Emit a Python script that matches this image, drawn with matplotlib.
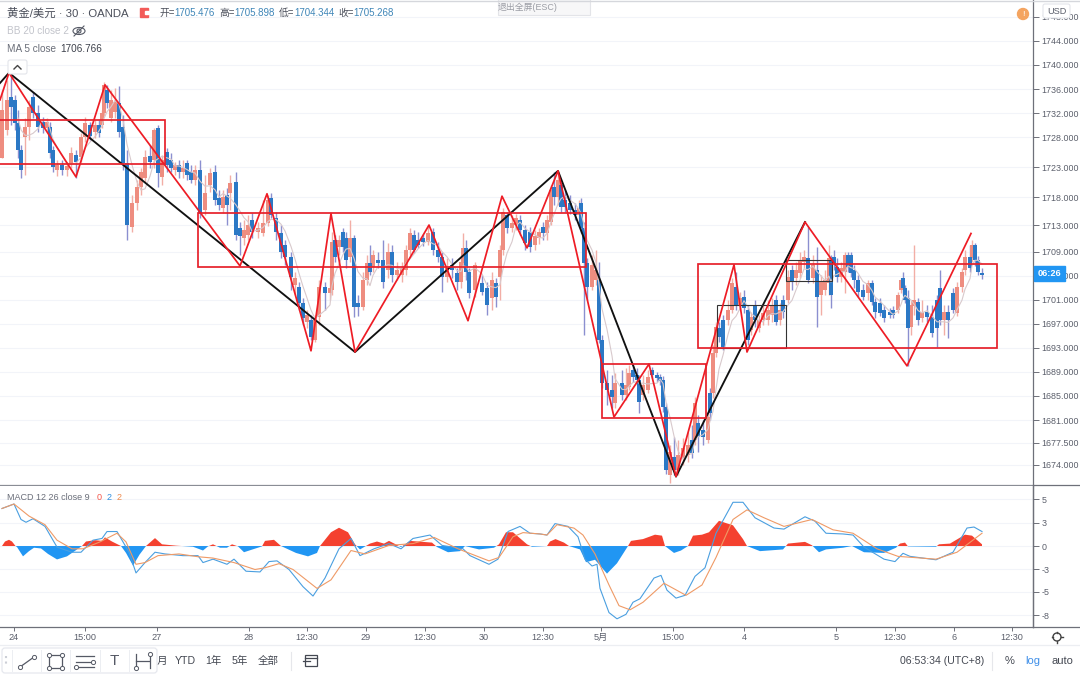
import matplotlib
matplotlib.use('Agg')
import matplotlib.pyplot as plt
import numpy as np
import pandas as pd
from matplotlib.patches import Rectangle, FancyBboxPatch, Circle, Ellipse

plt.rcParams['font.family'] = ['Liberation Sans', 'Noto Sans CJK SC', 'DejaVu Sans']

# candles, time axis is chart position
t = [2,7,11,15,18,21,25,29,33,38,
     43,47,50,53,57,62,67,71,76,81,
     85,90,95,99,102,104,107,111,115,119,
     123,127,132,137,141,145,150,154,158,162,
     167,171,175,179,183,187,191,195,200,205,
     210,215,219,223,227,230,236,240,244,248,
     252,258,263,268,271,276,281,285,291,295,
     299,303,307,311,315,319,325,330,332,335,
     339,343,346,350,354,358,363,367,370,373,
     378,383,388,392,397,402,406,410,414,418,
     423,428,433,438,442,447,452,457,461,463,
     466,469,475,482,487,492,496,500,503,507,
     512,516,520,525,530,535,539,543,547,551,
     554,558,561,565,570,575,579,581,584,587,
     592,596,599,602,607,612,615,622,626,629,
     633,637,639,643,648,652,657,660,663,666,
     670,674,678,683,688,692,695,698,703,708,
     710,713,716,719,723,728,732,736,740,744,
     748,751,755,759,763,768,772,776,780,783,
     788,792,796,800,804,808,813,817,821,825,
     829,831,834,837,841,845,848,851,854,858,
     863,868,872,875,880,884,890,893,898,901,
     903,905,908,911,914,918,922,927,932,937,
     940,944,948,953,957,962,965,970,972,975,
     978,982]

opens = [1724.6,1729.2,1734.7,1734.2,1730.4,1725.9,1728,1729.7,1734.7,1732,
         1730.5,1729.5,1729.7,1725.9,1722.6,1723.4,1722.6,1723.7,1725.1,1724.7,
         1728,1730,1728.9,1730,1730,1732,1735.9,1731.2,1732.2,1733.7,
         1729.7,1723.7,1713.1,1717.1,1719.7,1721.2,1724.9,1724.2,1729.5,1721.4,
         1725.6,1724.2,1722.6,1723.4,1722.2,1723.7,1722.2,1720.9,1722.6,1715.9,
         1720.1,1722.2,1717.9,1716.2,1718.4,1718.7,1720.6,1712.9,1711.3,1711.8,
         1714.3,1712.3,1712.1,1713.8,1717.9,1714.6,1712.1,1710.1,1708.1,1703.5,
         1703.1,1700.5,1697.3,1697.6,1694.3,1698.2,1703.1,1702.1,1702.6,1710.9,
         1709.8,1712.3,1711.3,1708.1,1711.3,1700.5,1699.8,1704.3,1707.1,1706.5,
         1707.6,1707.6,1706,1708.9,1705.1,1705.1,1706,1709.3,1711.8,1710.9,
         1711.3,1710.6,1712.3,1709.3,1708.1,1704.8,1706.8,1705.5,1704,1707.1,
         1709.6,1705.6,1702.6,1703.8,1703,1701.3,1703.8,1704.8,1709.3,1715.1,
         1712.9,1713.4,1714.3,1712.6,1712.3,1710.1,1711.3,1713.1,1712.1,1713.9,
         1719.7,1718.1,1720.1,1717.6,1717.1,1715.9,1715.1,1717.1,1712.9,1707.1,
         1703.1,1704.3,1704.3,1694.3,1687.2,1686,1683.9,1687.2,1685.2,1686.5,
         1689.3,1688.5,1687.7,1685.2,1686,1689.3,1688.5,1688.2,1687.7,1683.2,
         1671.9,1674.9,1672.7,1674.7,1675.2,1677.7,1677.7,1680.5,1679.4,1677.7,
         1685.5,1685.5,1692.2,1696.3,1697.6,1697.6,1699.3,1703.1,1700.1,1701.5,
         1699.3,1696,1700.1,1696.3,1697.6,1697.6,1698.5,1701,1697.6,1701,
         1701,1706,1704.6,1705.5,1707.3,1708,1704.6,1706,1701.8,1702.6,
         1703.8,1707.6,1708.1,1706.5,1704.8,1705.6,1708.4,1708.4,1706,1704.3,
         1702.6,1702.1,1703.8,1700.6,1700.5,1699.3,1699,1699.3,1699.3,1702.6,
         1704.6,1703,1701.3,1696.5,1700,1700.6,1698,1699,1698.2,1701,
         1703,1697.6,1699,1702.1,1698.8,1703.1,1706,1708.1,1708,1710.1,
         1707.6,1705.5]

closes = [1732.5,1734.2,1733,1730.4,1725.9,1722.6,1729.7,1733,1732,1729.7,
          1729.5,1730.5,1725.4,1723.1,1723.4,1722.6,1723.2,1725.4,1723.9,1728,
          1730.4,1728.2,1730,1728.7,1732,1736.7,1733.7,1734.2,1733.9,1728.9,
          1723.7,1713.4,1717.1,1719.7,1722.2,1724.7,1723.9,1729.2,1722.1,1724.2,
          1723.4,1722.9,1723.4,1722.2,1722.9,1721.7,1720.9,1722.6,1715.4,1718.7,
          1722,1717.6,1716.7,1718.1,1716.7,1720.4,1711.8,1711.6,1712.6,1713.4,
          1712.3,1712.9,1713.8,1717.6,1715.1,1712.3,1708.9,1708.1,1704.8,1704.6,
          1700.5,1698,1698.5,1694.8,1697.6,1703.1,1702.1,1703,1710.6,1708.1,
          1710.9,1709.8,1707.6,1711.3,1699.8,1699.8,1704.3,1707.1,1705.6,1708.4,
          1707.1,1704,1708.9,1705.1,1706,1706.3,1709.3,1712.1,1709.3,1710.1,
          1710.6,1712.1,1709.3,1708.1,1704.8,1706.3,1706,1704,1707.3,1709.6,
          1705.6,1702.1,1706.8,1702.3,1700.1,1704.3,1701.5,1709.3,1715.6,1712.9,
          1713.8,1714.6,1712.6,1710.4,1709.8,1711.6,1712.3,1712.1,1714.3,1719.2,
          1718.1,1720.9,1716.4,1716.4,1715.9,1715.1,1716.3,1712.9,1707.1,1703.1,
          1706.8,1706,1694.3,1687.2,1686,1684.9,1687.2,1685.2,1686.9,1688.8,
          1688.2,1687.7,1684,1686.9,1688.2,1688.5,1688,1687.5,1683.2,1672.7,
          1675.7,1672.7,1675.2,1676.4,1676.9,1675.6,1683.9,1678.2,1678.2,1681.5,
          1682.2,1692.2,1696.5,1694.8,1693.2,1699.3,1703.8,1700.1,1701.3,1699.6,
          1694.3,1698.2,1697.6,1697.6,1698.8,1699.3,1700.1,1697.3,1699.3,1699,
          1704.8,1704,1706,1707.6,1708.1,1704.3,1706.8,1701.5,1704,1704.3,
          1708,1701.8,1707.1,1704.8,1706.3,1708.4,1706.5,1705.5,1704.3,1702.3,
          1701.5,1703.8,1700.6,1699,1698.8,1698,1698.5,1698.5,1701.8,1704.3,
          1703,1701,1696.3,1700.1,1701,1697.6,1699,1698.2,1695.5,1696.3,
          1697.6,1699,1697.6,1699.3,1703.1,1705.6,1708.1,1706.3,1710.1,1707.6,
          1705.6,1705.1]

highs = [1735.9,1737.5,1738.7,1735,1732.5,1726.7,1731.2,1734.2,1735.5,1733.4,
         1731.4,1731.2,1730.5,1726.5,1724.2,1724.2,1723.9,1726.4,1725.9,1728.7,
         1731.4,1730.5,1730.9,1730.9,1732.5,1737.2,1736.7,1735.9,1736.2,1736.5,
         1731.7,1725.9,1718.4,1720.9,1722.9,1725.9,1726.7,1729.5,1730,1725.1,
         1726.2,1725.4,1723.9,1724.2,1724.2,1724.2,1723.4,1723.4,1724.2,1721.7,
         1722.9,1723.4,1719.2,1719.2,1719.6,1721.7,1722.2,1713.9,1714.3,1715.1,
         1715.4,1713.9,1717.6,1718.4,1718.7,1715.6,1713.4,1710.9,1708.9,1705.6,
         1704,1701.3,1699.3,1698.5,1698.5,1704.3,1704,1704.8,1712.3,1711.8,
         1711.8,1712.9,1712.3,1714.3,1711.8,1701.8,1705.6,1708.4,1710.1,1709.3,
         1708.9,1710.9,1710.4,1710.1,1707.3,1707.3,1710.1,1712.9,1712.6,1712.3,
         1711.9,1713.4,1712.9,1710.6,1708.9,1707.9,1707.9,1706.3,1708.4,1712.1,
         1710.9,1706.3,1707.3,1705.1,1704,1705.6,1704.6,1710.1,1716.3,1715.6,
         1715.1,1715.3,1715.1,1713.4,1713.1,1712.6,1712.9,1713.9,1715.1,1720.1,
         1722.2,1721.7,1720.9,1719.2,1718.4,1717.1,1717.6,1717.9,1713.9,1708,
         1708.4,1709.3,1707.3,1695.2,1689.3,1688.5,1688.8,1689.3,1689.7,1690.2,
         1690.2,1689.7,1688.5,1688.5,1689.3,1689.8,1689,1688.7,1688.3,1683.9,
         1676.9,1678.2,1677.7,1678,1679,1680.2,1684.9,1681.9,1681,1682.7,
         1686.3,1693.5,1697.3,1697.3,1698.5,1701,1704.6,1705.6,1702.3,1702.6,
         1700.1,1699,1701,1698.5,1700.1,1701,1701.3,1701.8,1700.5,1701.8,
         1706,1706.8,1707.3,1708.9,1709.3,1713.1,1708.4,1709.8,1705.1,1706,
         1710.1,1708.4,1709.3,1708,1707.3,1708.9,1708.9,1708.9,1706.8,1705.1,
         1703.6,1704.3,1704.3,1701.3,1701.3,1700.1,1699.6,1700,1702.3,1704.6,
         1705.6,1703.5,1702.6,1701,1710.1,1701.3,1701,1700.1,1700.1,1701.8,
         1706,1700.1,1700.1,1703,1704,1706.3,1709.3,1710.1,1710.9,1710.4,
         1708.3,1706.3]

lows = [1724.6,1728.4,1730,1729.2,1724.6,1721.2,1721.7,1727.5,1731.2,1728.9,
        1728.7,1728.9,1724.6,1722.2,1721.6,1721.7,1721.6,1722.9,1721.2,1723.9,
        1727.2,1727.5,1727.9,1728,1729.5,1731.5,1732.9,1730.5,1731.2,1728,
        1722.6,1710.9,1712.3,1715.9,1718.4,1720.6,1722.9,1722.9,1719.7,1720.1,
        1722.2,1722.2,1721.7,1721.2,1721.2,1720.9,1720.4,1720.1,1714.6,1715.1,
        1718.9,1716.7,1715.9,1715.4,1713.4,1715.9,1710.9,1708.4,1710.1,1710.9,
        1711.3,1711.3,1711.6,1713.3,1714.6,1710.9,1708,1706.8,1702.6,1701.8,
        1699.3,1696.8,1696.3,1694.3,1694,1696.8,1699.3,1701,1701.8,1707.3,
        1708.4,1708.9,1706.3,1707.3,1698.2,1698.3,1699.3,1703.5,1705.1,1705.6,
        1706.3,1703,1704.6,1704,1704.3,1704,1705.1,1708.4,1708.8,1709.6,
        1709.9,1710.1,1708.4,1707.3,1702.3,1704,1704.6,1702.6,1703,1706.3,
        1704.3,1701.3,1701.5,1701.8,1698.5,1699.3,1699.8,1701,1708.4,1712.1,
        1712.3,1712.6,1711.8,1709.3,1708.9,1709.3,1710.3,1710.9,1710.9,1713.4,
        1716.7,1716.7,1715.6,1715.6,1715.3,1714.3,1713.9,1712.1,1695.2,1701,
        1702.6,1703.5,1693.8,1686.4,1683.5,1683,1683,1684.4,1684.4,1686,
        1687.3,1686.9,1682.2,1684.4,1685.5,1688,1687.3,1686.9,1682.4,1672.1,
        1670.6,1671.8,1671.9,1673.6,1674.1,1674.7,1676.9,1675.7,1676.9,1677.2,
        1681,1684.7,1691.5,1694,1692.7,1696.8,1698.8,1699.3,1699.3,1698.8,
        1693.5,1695.2,1696.5,1695.7,1696.8,1696.8,1697.3,1696.8,1696.8,1698,
        1700.5,1702.6,1703.5,1704.6,1706.3,1703.8,1703.8,1696.5,1698.5,1701.8,
        1701.8,1699.6,1706,1704,1704,1702.1,1705.6,1704.8,1703,1701.5,
        1701,1701,1700.1,1698,1698.3,1697.3,1698,1698,1698.8,1702.1,
        1701.8,1700.5,1689.9,1695.2,1698.5,1696.8,1697.3,1697.3,1694.8,1693.2,
        1696.8,1695.2,1694.7,1698.8,1698.3,1702.3,1705.1,1705.6,1707.3,1706.6,
        1705.1,1704.5]

# hand drawn zigzags and boxes on the chart
red_t = [0,9,76,105,240,267,311,331,355,429,468,502,527,558,614,649,676,734,747,805,907,971]
red_p = [1734.2,1738.7,1721.4,1736.7,1706.6,1718.6,1692.5,1715.3,1692.3,1713.4,1697.5,
         1718.2,1709.6,1722.4,1681.5,1690.3,1671.6,1706.8,1692.3,1713.9,1690,1712]
black_t = [0,9,355,558,676,805]
black_p = [1737,1738.7,1692.3,1722.4,1671.6,1713.9]

red_box_l = [-3,198,602,698]
red_box_r = [165,586,706,997]
red_box_top = [1730.9,1715.4,1690.3,1706.9]
red_box_bot = [1723.6,1706.4,1681.4,1693]
black_box_l = [717,786]
black_box_r = [786,832]
black_box_top = [1700.1,1707.6]
black_box_bot = [1693,1704.1]

price_ticks = [1748,1744,1740,1736,1732,1728,1723,1718,1713.4,1709,1705,1701,1697,1693,1689,1685,1681,1677.2,1673.6]
price_labels = ['1748.000','1744.000','1740.000','1736.000','1732.000','1728.000','1723.000','1718.000',
                '1713.000','1709.000','1705.000','1701.000','1697.000','1693.000','1689.000','1685.000',
                '1681.000','1677.500','1674.000']

# MACD panel
macd_t = [2,14,21,26,33,45,57,72,81,93,102,107,117,129,136,145,155,165,183,198,203,213,227,234,246,
          260,269,277,289,303,313,325,339,351,360,374,389,401,413,430,442,463,470,489,498,508,520,530,
          540,547,555,568,578,585,592,597,600,609,617,626,633,640,654,661,667,676,685,695,705,716,733,
          743,755,774,784,805,815,826,843,853,864,884,895,903,910,936,953,967,974,982]
macd_v = [4.17,4.67,2.95,2.64,3.03,2.18,-0.12,-0.69,-0.69,0.65,0.84,1.61,1.61,-0.69,-2.99,-1.84,-0.69,
          -0.88,-1.07,-1.07,-1.84,-1.46,-2.03,-1.46,-2.8,-2.88,-1.73,-1.65,-2.61,-4.52,-5.56,-3.56,-0.31,
          0.84,-1.07,-0.31,0.27,-0.31,0.84,1.22,0.07,-0.31,-1.07,-2.03,-1.46,1.61,2.18,1.42,
          1.34,1.22,2.49,2.18,1.03,-1.46,-2.22,-2.03,-4.71,-7.4,-8.09,-7.59,-6.25,-5.86,-3.56,-3.26,-4.91,
          -5.79,-5.48,-3.37,-2.42,1.42,4.86,4.86,3.14,2,1.88,3.25,2.76,1.42,1.34,1.22,-0.12,-1.46,-1.73,
          -0.81,-1.15,-1.53,-0.69,2,2.11,1.61]
signal_t = [2,14,29,45,57,72,83,100,117,126,136,145,158,179,198,213,234,255,265,279,293,317,331,351,365,
            389,413,434,458,489,499,513,523,540,547,557,574,583,595,609,619,630,643,664,686,702,716,733,
            747,764,784,812,833,853,877,898,936,957,982]
signal_v = [4.17,4.67,3.33,2.37,0.65,-0.31,-0.31,0.46,1.42,0.46,-2.03,-1.84,-1.07,-0.88,-1.19,-1.34,-1.84,
            -2.61,-2.42,-1.96,-2.61,-4.71,-3.76,-0.5,-0.88,0.07,0.27,0.96,-0.31,-1.65,-1.27,1.03,1.49,1.34,
            1.22,2.37,1.99,1.22,-0.88,-4.33,-6.63,-7.09,-6.25,-4.14,-5.48,-4.33,-1.27,2.95,4.02,3.14,2.18,
            2.95,1.8,1.42,-0.31,-1.15,-1.46,-0.69,1.42]
hist_t = [2,5,9,12,15.5,17,23,29,34,41,48,57,67,76,82,86,95,102,105,112,119,121,126,133,139.5,146,155,162,
          176,193,203,208,213,220,227,232,238,244,262,265,274,281,296,308,317,320,331,339,348,355,360,370,
          377,384,389,401,410,432,437,448,460,465,479,494,499,506,513,527,532,540,547,550,555.5,564,569,
          580,586,595,607,617,628,631,643,655,662,665,674,681,688,693,702,709,719,733,743,747,760,783,788,
          805,812,819,826,843,852,864,884,896,900,905,908,936,939,950,965,972,982]
hist_v = [0,.5,.69,.5,0,-.11,-1.15,-.57,-.19,-.27,-.88,-1.49,-1.15,-.46,0,.5,.65,.57,.96,.5,.11,0,-.77,-2.18,
          -.96,0,.88,.19,.04,-.08,-.5,-.04,.19,-.19,-.19,.19,-.04,-.69,-.04,.57,.69,0,-.77,-1.15,-.77,0,1.53,
          2.03,1.53,.19,-.38,.27,.5,.27,.57,-.11,.57,.38,-.11,-.69,-.57,0,-.38,-.19,.19,1.53,1.53,.19,-.08,
          -.04,0,.5,.77,.38,0,-.38,-1.8,-1.53,-3.07,-1.92,0,.57,.77,1.26,1.15,0,-.77,-.5,0,1.15,1.26,1.53,2.8,
          2.3,.77,0,-.57,-.38,.27,.46,.08,-.69,-.38,-.19,0,-.69,-.77,-.19,.27,.38,-.04,-.08,.19,.27,1.26,1.15,.19]
macd_ticks = [5.2,2.6,0,-2.6,-5.1,-7.7]
macd_labels = ['5','3','0','-3','-5','-8']

time_ticks = [14,85,157,249,307,366,425,484,543,601,673,744,836,895,954,1012]
time_labels = ['24','15:00','27','28','12:30','29','12:30','30','12:30','5月','15:00','4','5','12:30','6','12:30']

t = np.array(t)
opens = np.array(opens)
closes = np.array(closes)
highs = np.array(highs)
lows = np.array(lows)
up = closes >= opens

W, H = 1080, 675
fig = plt.figure(figsize=(10.8, 6.75), dpi=100)
ax = fig.add_axes([0, 1 - 485 / H, 1033 / W, 485 / H])
ax2 = fig.add_axes([0, 1 - 627 / H, 1033 / W, 141 / H])
axis_c = '#6e7079'
text_c = '#5b5f6b'
grid_c = '#f2f4f9'

ax.set_xlim(0, 1033)
ax.set_ylim(1670.2, 1750.8)
ax.set_yticks(price_ticks)
ax.set_yticklabels(price_labels)
ax.set_xticks([])
ax.grid(axis='y', color=grid_c, lw=0.8)
ax.set_axisbelow(True)

# wicks then bodies
ax.vlines(t[up], lows[up], highs[up], color='#f2aea6', lw=1.0, zorder=2)
ax.vlines(t[~up], lows[~up], highs[~up], color='#8b8fd0', lw=1.0, zorder=2)
ax.bar(t[up], (closes - opens)[up], bottom=opens[up], width=3.6, color='#ee8d80', zorder=3)
ax.bar(t[~up], (closes - opens)[~up], bottom=opens[~up], width=3.6, color='#2b78c5', zorder=3)

ma5 = pd.Series(closes).rolling(5).mean()
ax.plot(t, ma5, color='#d8c9cc', lw=0.8, zorder=4)

ax.plot(black_t, black_p, color='#111111', lw=1.35, zorder=5)
ax.plot(red_t, red_p, color='#ee1c25', lw=1.25, zorder=6)
for i in range(len(red_box_l)):
    ax.add_patch(Rectangle((red_box_l[i], red_box_bot[i]), red_box_r[i] - red_box_l[i],
                           red_box_top[i] - red_box_bot[i], fill=False, ec='#e6202a', lw=1.25, zorder=6))
for i in range(len(black_box_l)):
    ax.add_patch(Rectangle((black_box_l[i], black_box_bot[i]), black_box_r[i] - black_box_l[i],
                           black_box_top[i] - black_box_bot[i], fill=False, ec='#333333', lw=0.8, zorder=5))

ax2.set_xlim(0, 1033)
ax2.set_ylim(-9, 6.67)
ax2.set_yticks(macd_ticks)
ax2.set_yticklabels(macd_labels)
ax2.set_xticks(time_ticks)
ax2.set_xticklabels(time_labels)
ax2.grid(axis='y', color=grid_c, lw=0.8)
ax2.set_axisbelow(True)
ax2.fill_between(hist_t, hist_v, 0, where=np.array(hist_v) >= 0, interpolate=True, color='#f4412f', lw=0, zorder=2)
ax2.fill_between(hist_t, hist_v, 0, where=np.array(hist_v) <= 0, interpolate=True, color='#2196f3', lw=0, zorder=2)
ax2.plot(macd_t, macd_v, color='#4a9fe0', lw=0.8, zorder=3)
ax2.plot(signal_t, signal_v, color='#ef9a66', lw=0.8, zorder=3)

for a in (ax, ax2):
    a.yaxis.tick_right()
    a.tick_params(axis='y', labelsize=6.4, labelcolor=text_c, color=axis_c, length=4, width=0.7, pad=2)
    a.tick_params(axis='x', labelsize=6.6, labelcolor=text_c, color=axis_c, length=3, width=0.7, pad=1)
    for s in ('left', 'top'):
        a.spines[s].set_visible(False)
    for s in ('right', 'bottom'):
        a.spines[s].set_color(axis_c)
        a.spines[s].set_linewidth(0.9)
ax.spines['bottom'].set_color('#8a8d95')

# interface around the chart
ui = fig.add_axes([0, 0, 1, 1], zorder=10)
ui.set_xlim(0, W)
ui.set_ylim(H, 0)
ui.axis('off')
ui.patch.set_alpha(0)

ui.plot([0, W], [0.5, 0.5], color='#d5d7dc', lw=1)
ui.plot([1033, 1033], [485, 627], color=axis_c, lw=0.9)
ui.plot([1033, W], [485, 485], color=axis_c, lw=0.9)
ui.plot([1033, W], [627, 627], color=axis_c, lw=0.9)
ui.plot([0, W], [645, 645], color='#eceef2', lw=0.9)

ui.text(7, 13, '黄金/美元 · 30 · OANDA', fontsize=8.2, color='#4a4e5a', va='center')
ui.add_patch(Rectangle((140, 8), 8, 9, color='#f25a58'))
ui.add_patch(Rectangle((145, 11), 4, 3, color='white'))
legend_items = [('开=', 159, '#4a4e5a'), ('1705.476', 174, '#3f86b8'), ('高=', 219, '#4a4e5a'), ('1705.898', 234, '#3f86b8'),
                ('低=', 279, '#4a4e5a'), ('1704.344', 294, '#3f86b8'), ('收=', 338, '#4a4e5a'), ('1705.268', 353, '#3f86b8')]
for s, x, c in legend_items:
    ui.text(x, 13, s, fontsize=7, color=c, va='center')
ui.text(7, 31, 'BB 20 close 2', fontsize=7.2, color='#c2c4cb', va='center')
ui.add_patch(Ellipse((79, 31), 12, 7, fill=False, ec='#555965', lw=0.8))
ui.add_patch(Circle((79, 31), 2, fill=False, ec='#555965', lw=0.8))
ui.plot([74, 84], [36, 26], color='#555965', lw=0.8)
ui.text(7, 49, 'MA 5 close', fontsize=7.2, color='#6a6e79', va='center')
ui.text(60, 49, '1706.766', fontsize=7.2, color='#3d414c', va='center')
ui.add_patch(FancyBboxPatch((8, 60), 19, 14, boxstyle='round,pad=0,rounding_size=2', fc='white', ec='#e3e5ea', lw=0.8))
ui.plot([14, 17.5, 21], [69, 65.5, 69], color='#444', lw=1)

ui.add_patch(Rectangle((498, -1), 92, 16, fc='#f7f7f8', ec='#e3e4e8', lw=0.8))
ui.text(528, 7, '退出全屏(ESC)', fontsize=6.4, color='#9b9da5', ha='center', va='center')
ui.add_patch(Circle((1023, 14), 5.5, color='#f4a460'))
ui.text(1023, 14, '!', fontsize=6, color='white', ha='center', va='center')
ui.add_patch(FancyBboxPatch((1043, 4), 27, 14, boxstyle='round,pad=0,rounding_size=2', fc='white', ec='#e3e5ea', lw=0.8))
ui.text(1056.5, 11, 'USD', fontsize=6.6, color=text_c, ha='center', va='center')

ui.add_patch(Rectangle((1034, 266), 31, 15, color='#2196f3'))
ui.text(1049.5, 273.5, '06:26', fontsize=6.6, color='white', ha='center', va='center', fontweight='bold')

ui.text(7, 497, 'MACD 12 26 close 9', fontsize=6.5, color='#6a6e79', va='center')
ui.text(97, 497, '0', fontsize=6.5, color='#f4564a', va='center')
ui.text(107, 497, '2', fontsize=6.5, color='#2f8fe0', va='center')
ui.text(117, 497, '2', fontsize=6.5, color='#ef8a4c', va='center')

# gear
ui.add_patch(Circle((1057, 637), 4, fill=False, ec='#444', lw=1))
for dx, dy in [(0, -5.5), (0, 5.5), (-5.5, 0), (5.5, 0)]:
    ui.plot([1057 + dx * 0.75, 1057 + dx], [637 + dy * 0.75, 637 + dy], color='#444', lw=1)

# bottom bar
for s, x in [('月', 162), ('YTD', 185), ('1年', 213), ('5年', 240), ('全部', 268)]:
    ui.text(x, 661, s, fontsize=7.6, color='#444852', ha='center', va='center')
ui.plot([291, 291], [652, 670], color='#e6e7eb', lw=0.8)
ui.add_patch(Rectangle((305, 655), 12, 11, fill=False, ec='#444852', lw=0.9))
ui.plot([305, 317], [658, 658], color='#444852', lw=0.9)
ui.plot([303, 310], [661, 661], color='#444852', lw=0.9)
ui.text(942, 661, '06:53:34 (UTC+8)', fontsize=7.6, color='#444852', ha='center', va='center')
ui.plot([992, 992], [652, 670], color='#e6e7eb', lw=0.8)
ui.text(1010, 661, '%', fontsize=8, color='#444852', ha='center', va='center')
ui.text(1033, 661, 'log', fontsize=8, color='#3f8fe8', ha='center', va='center')
ui.text(1062, 661, 'auto', fontsize=8, color='#444852', ha='center', va='center')

# drawing toolbar
ui.add_patch(FancyBboxPatch((2, 648), 155, 25, boxstyle='round,pad=0,rounding_size=3', fc='white', ec='#e6e8ee', lw=0.9, zorder=3))
for x in (12, 41, 70, 100, 129):
    ui.plot([x, x], [650, 671], color='#eceef2', lw=0.7, zorder=4)
ui.plot([5.5, 5.5], [656, 666], color='#cccfd6', lw=1.5, ls=':', zorder=4)
ic = '#555965'
ui.plot([20, 34], [667, 657], color=ic, lw=0.9, zorder=4)
ui.plot([20, 34], [667, 657], 'o', mfc='white', mec=ic, ms=3, mew=0.7, zorder=5)
ui.add_patch(Rectangle((49, 655), 13, 13, fill=False, ec=ic, lw=0.9, zorder=4))
ui.plot([49, 62, 49, 62], [655, 655, 668, 668], 'o', mfc='white', mec=ic, ms=3, mew=0.7, zorder=5)
for y, x0, x1 in [(656, 76, 94), (661.5, 76, 92), (667, 78, 94)]:
    ui.plot([x0, x1], [y, y], color=ic, lw=0.9, zorder=4)
ui.plot([93, 76], [661.5, 667], 'o', mfc='white', mec=ic, ms=3, mew=0.7, zorder=5)
ui.text(114, 661, 'T', fontsize=11, color=ic, ha='center', va='center', zorder=4, fontweight='light')
ui.plot([136, 136], [654, 668], color=ic, lw=0.9, zorder=4)
ui.plot([150, 150], [654, 668], color=ic, lw=0.9, zorder=4)
ui.plot([136, 149], [661, 661], color=ic, lw=0.9, zorder=4)
ui.plot([136, 150], [668, 654], 'o', mfc='white', mec=ic, ms=3, mew=0.7, zorder=5)

fig.savefig('out.png', dpi=100, facecolor='white')
